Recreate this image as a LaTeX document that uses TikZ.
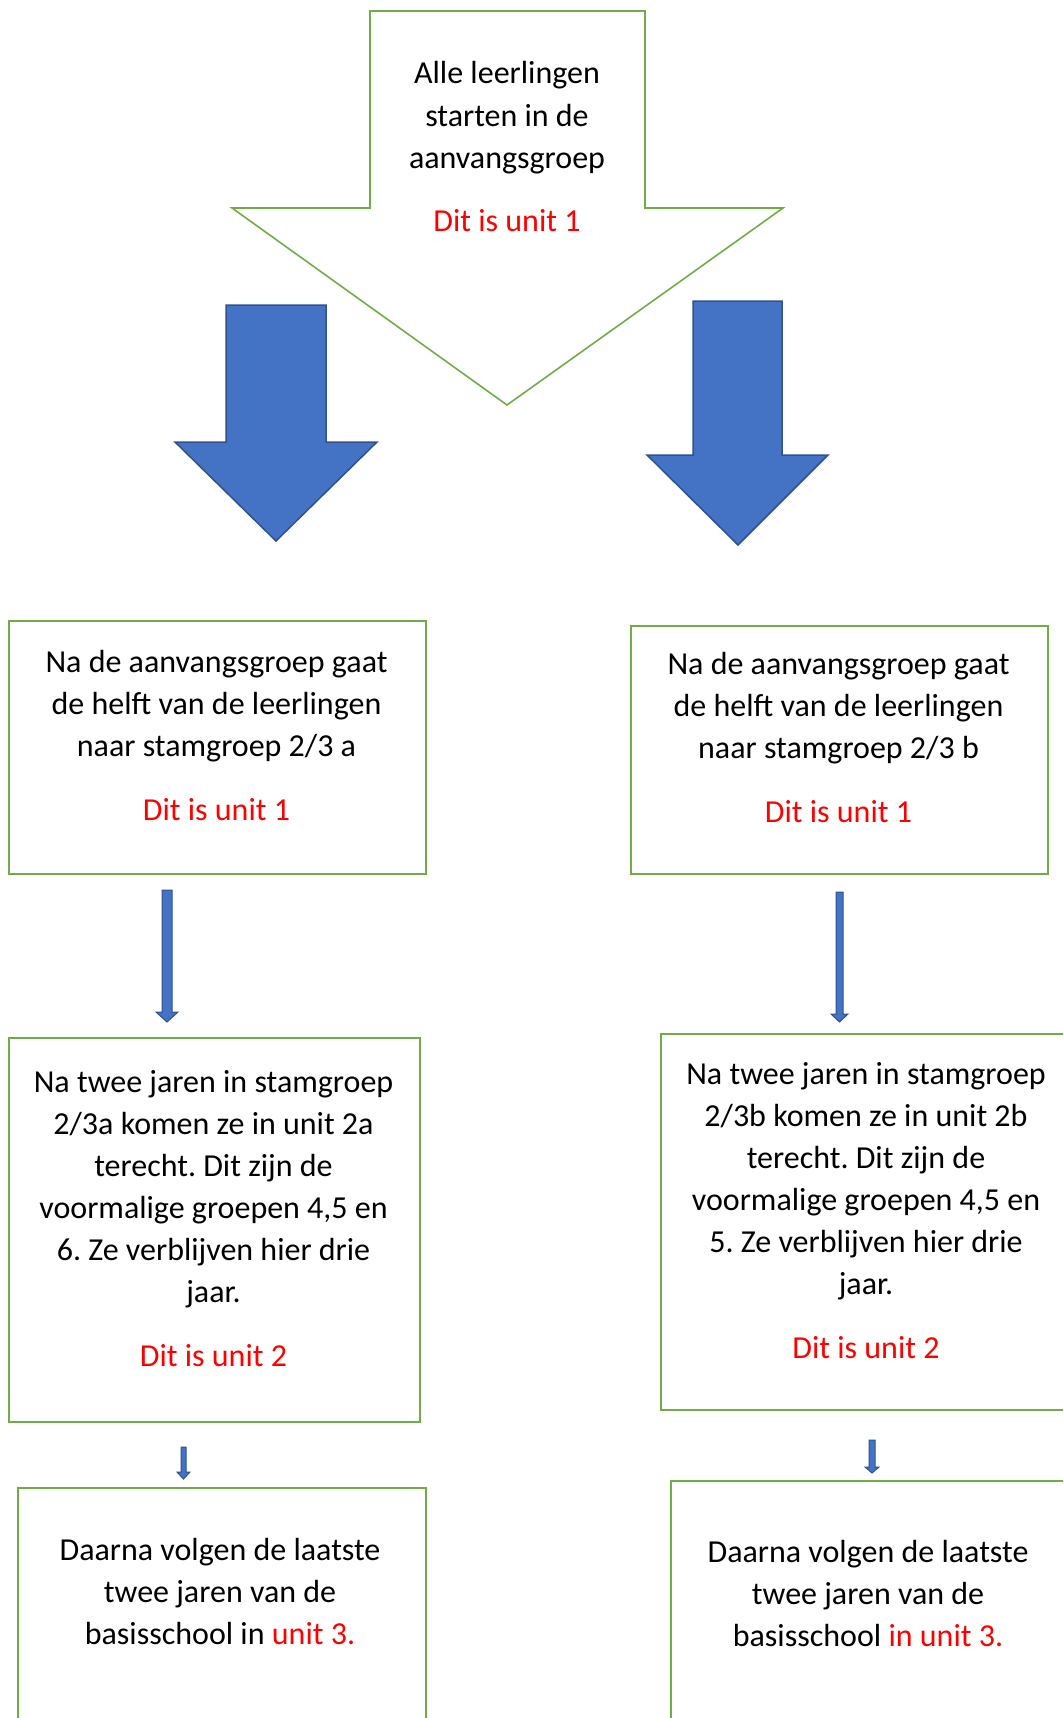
\documentclass[tikz,border=0pt]{standalone}
\usepackage{fontspec}
\setmainfont{Carlito}
\frenchspacing
\definecolor{boxgreen}{HTML}{70AD47}
\definecolor{arrowblue}{HTML}{4472C4}
\definecolor{arrowedge}{HTML}{2F528F}
\definecolor{unitred}{HTML}{FF0000}
\begin{document}
\begin{tikzpicture}[x=1pt,y=-1pt,
  greenbox/.style={draw=boxgreen,line width=2.2pt,fill=white,anchor=north west,inner sep=0pt},
  bigshape/.style={draw=boxgreen,line width=1.6pt,fill=white,line join=miter},
  blockarrow/.style={fill=arrowblue,draw=arrowedge,line width=1.5pt,line join=miter},
  thinarrow/.style={fill=arrowblue,draw=arrowedge,line width=1pt,line join=miter},
  txt/.style={align=center,anchor=north,inner sep=0pt,font=\fontsize{32}{42}\selectfont\frenchspacing}]
\useasboundingbox (0,0) rectangle (1063,1718);
\clip (0,0) rectangle (1063,1718);

% big green down arrow
\draw[bigshape] (370,11) -- (645,11) -- (645,208) -- (783,208) -- (507,405) -- (232,208) -- (370,208) -- cycle;
\node[txt,font=\fontsize{32}{42.7}\selectfont] (tTop) at (507,83.4-29.9) {\strut Alle leerlingen\\ starten in de\\ aanvangsgroep\\[20pt] \textcolor{unitred}{Dit is unit 1}};

% big blue arrows
\draw[blockarrow] (226,305) -- (326,305) -- (326,442) -- (377,442) -- (276,541) -- (175,442) -- (226,442) -- cycle;
\draw[blockarrow] (693,301) -- (782,301) -- (782,455) -- (828,455) -- (738,545) -- (647,455) -- (693,455) -- cycle;

% boxes row 1
\node[greenbox,minimum width=417pt,minimum height=253pt] (L1) at (8,620) {};
\node[greenbox,minimum width=417pt,minimum height=248pt] (R1) at (630,625) {};
\node[txt] (tL1) at (216.5,672-29.4) {\strut Na de aanvangsgroep gaat\\ de helft van de leerlingen\\ naar stamgroep 2/3 a\\[22pt] \textcolor{unitred}{Dit is unit 1}};
\node[txt] (tR1) at (838.5,674-29.4) {\strut Na de aanvangsgroep gaat\\ de helft van de leerlingen\\ naar stamgroep 2/3 b\\[22pt] \textcolor{unitred}{Dit is unit 1}};

% thin arrows
\draw[thinarrow] (162,890) -- (172,890) -- (172,1012) -- (178,1012) -- (167,1022) -- (156,1012) -- (162,1012) -- cycle;
\draw[thinarrow] (836,892) -- (843,892) -- (843,1014) -- (848,1014) -- (839.5,1022) -- (831,1014) -- (836,1014) -- cycle;

% boxes row 2
\node[greenbox,minimum width=411pt,minimum height=384pt] (L2) at (8,1037) {};
\node[greenbox,minimum width=420pt,minimum height=376pt] (R2) at (660,1033) {};
\node[txt] (tL2) at (213.5,1092-29.4) {\strut Na twee jaren in stamgroep\\ 2/3a komen ze in unit 2a\\ terecht. Dit zijn de\\ voormalige groepen 4,5 en\\ 6. Ze verblijven hier drie\\ jaar.\\[22pt] \textcolor{unitred}{Dit is unit 2}};
\node[txt] (tR2) at (866,1084-29.4) {\strut Na twee jaren in stamgroep\\ 2/3b komen ze in unit 2b\\ terecht. Dit zijn de\\ voormalige groepen 4,5 en\\ 5. Ze verblijven hier drie\\ jaar.\\[22pt] \textcolor{unitred}{Dit is unit 2}};

% small arrows
\draw[thinarrow] (181,1447) -- (186,1447) -- (186,1472) -- (190,1472) -- (183.5,1479) -- (177,1472) -- (181,1472) -- cycle;
\draw[thinarrow] (869,1440) -- (875,1440) -- (875,1467) -- (879,1467) -- (872,1473) -- (865,1467) -- (869,1467) -- cycle;

% boxes row 3
\node[greenbox,minimum width=408pt,minimum height=250pt] (L3) at (17,1487) {};
\node[greenbox,minimum width=410pt,minimum height=260pt] (R3) at (670,1480) {};
\node[txt] (tL3) at (220,1560-29.4) {\strut Daarna volgen de laatste\\ twee jaren van de\\ basisschool in \textcolor{unitred}{unit 3.}};
\node[txt] (tR3) at (868,1562-29.4) {\strut Daarna volgen de laatste\\ twee jaren van de\\ basisschool \textcolor{unitred}{in unit 3.}};
\end{tikzpicture}
\end{document}
